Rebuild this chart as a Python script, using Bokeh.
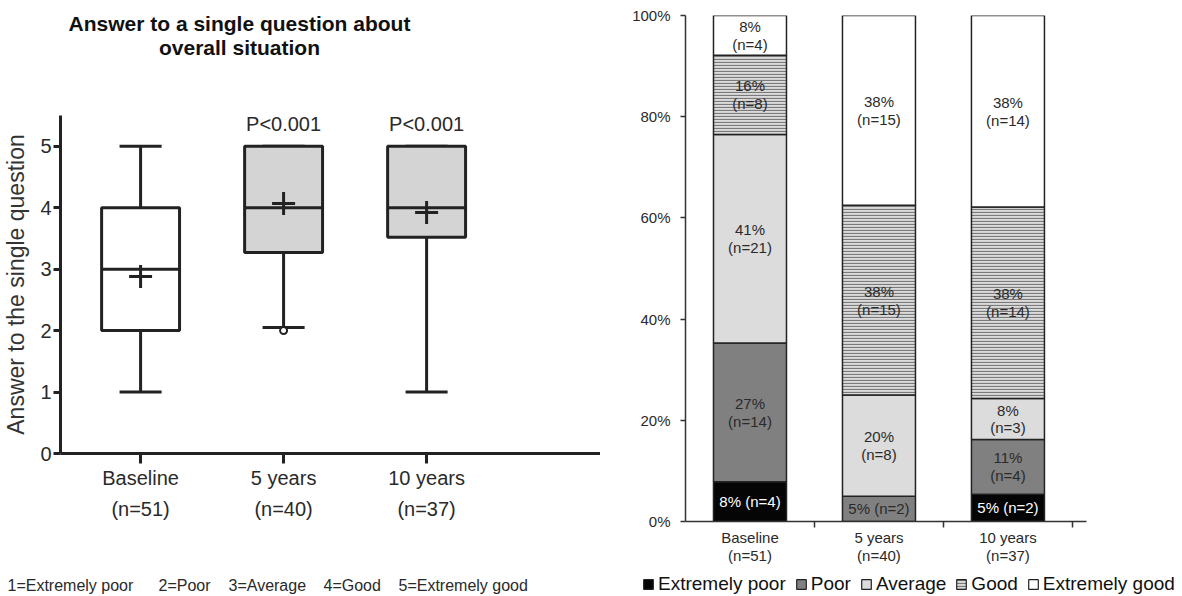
from bokeh.plotting import figure
from bokeh.models import (Range1d, FixedTicker, LabelSet, ColumnDataSource,
                          Legend, LegendItem, NumeralTickFormatter)
from bokeh.layouts import row, column
from bokeh.embed import file_html
from bokeh.resources import INLINE
from bokeh.core.properties import value

FONT = "Liberation Sans"
INK = "#222222"
TEXT = "#2a2a2a"
BOX_GRAY = "#d4d4d4"

# ---- data -------------------------------------------------------------
groups = ["Baseline", "5 years", "10 years"]
group_n = [51, 40, 37]

# box-plot summary of the single-question answer per time point
whisker_low = [1.0, 2.05, 1.0]
quart_low = [2.0, 3.27, 3.52]
medians = [3.0, 4.0, 4.0]
quart_high = [4.0, 5.0, 5.0]
whisker_high = [5.0, 5.0, 5.0]
means = [2.88, 4.07, 3.92]
p_values = ["", "P<0.001", "P<0.001"]
outlier_group = ["5 years"]
outlier_value = [2.0]

title_lines = ["Answer to a single question about", "overall situation"]
scale_names = ["1=Extremely poor", "2=Poor", "3=Average", "4=Good", "5=Extremely good"]

# answer distribution (counts) per time point
levels = ["Extremely poor", "Poor", "Average", "Good", "Extremely good"]
extremely_poor = [4, 0, 2]
poor = [14, 2, 4]
average = [21, 8, 3]
good = [8, 15, 14]
extremely_good = [4, 15, 14]

xs = [i + 1 for i in range(len(groups))]
pos = dict(zip(groups, xs))
tick_text = {x: f"{g}\n(n={n})" for x, g, n in zip(xs, groups, group_n)}

level_style = {
    "Extremely poor": dict(fill_color="#050505"),
    "Poor": dict(fill_color="#808080"),
    "Average": dict(fill_color="#dcdcdc"),
    "Good": dict(fill_color="#dadada", hatch_pattern="horizontal_line",
                 hatch_color="#7a7a7a", hatch_scale=3, hatch_weight=1.2),
    "Extremely good": dict(fill_color="white"),
}


def style_axis(ax, size, width, color=INK):
    ax.axis_line_color = color
    ax.axis_line_width = width
    ax.major_tick_line_color = color
    ax.major_tick_line_width = width
    ax.major_tick_in = 0
    ax.minor_tick_line_color = None
    ax.major_label_text_font = FONT
    ax.major_label_text_font_size = size
    ax.major_label_text_color = TEXT


def blank_panel(width, height):
    """A figure whose frame covers the whole canvas, measured in pixels."""
    f = figure(width=width, height=height, x_range=Range1d(0, width), y_range=Range1d(0, height),
               output_backend="svg", toolbar_location=None, x_axis_location=None,
               y_axis_location=None, min_border=0, outline_line_color=None, frame_align=False)
    f.grid.visible = False
    return f


# ---- left: title panel --------------------------------------------------
header = blank_panel(600, 100)
header.text(x=[239, 239], y=[77, 53], text=title_lines, text_align="center",
            text_baseline="middle", text_font=value(FONT), text_font_size="21px",
            text_font_style="bold", text_color="#111111")

# ---- left: box plot ---------------------------------------------------
left = figure(width=600, height=460, x_range=Range1d(0.44, 4.216), y_range=Range1d(0, 5.5),
              output_backend="svg", toolbar_location=None, frame_align=False,
              min_border_left=60, min_border_right=0, min_border_top=15, min_border_bottom=107,
              outline_line_color=None, background_fill_color="white")
left.xgrid.grid_line_color = None
left.ygrid.grid_line_color = None

box_w = 0.545
cap_w = 0.294
fills = ["white" if g == "Baseline" else BOX_GRAY for g in groups]

# whiskers with caps
left.segment(x0=xs, y0=whisker_low, x1=xs, y1=quart_low, line_color=INK, line_width=3)
left.segment(x0=xs, y0=quart_high, x1=xs, y1=whisker_high, line_color=INK, line_width=3)
left.segment(x0=[x - cap_w / 2 for x in xs], y0=whisker_low,
             x1=[x + cap_w / 2 for x in xs], y1=whisker_low, line_color=INK, line_width=3)
left.segment(x0=[x - cap_w / 2 for x in xs], y0=whisker_high,
             x1=[x + cap_w / 2 for x in xs], y1=whisker_high, line_color=INK, line_width=3)
# boxes and medians
left.vbar(x=xs, bottom=quart_low, top=quart_high, width=box_w,
          fill_color=fills, line_color=INK, line_width=3)
left.segment(x0=[x - box_w / 2 for x in xs], y0=medians,
             x1=[x + box_w / 2 for x in xs], y1=medians, line_color=INK, line_width=3)
# means
left.scatter(x=xs, y=means, marker="cross", size=23, line_color=INK, line_width=3)
# outlier
left.scatter(x=[pos[g] for g in outlier_group], y=outlier_value, marker="circle", size=7,
             fill_color="white", line_color=INK, line_width=2)

p_src = ColumnDataSource(dict(x=xs, y=whisker_high, text=p_values))
left.add_layout(LabelSet(x="x", y="y", text="text", source=p_src, y_offset=22,
                         text_align="center", text_baseline="middle",
                         text_font=value(FONT), text_font_size="20px", text_color=TEXT))

left.yaxis.ticker = FixedTicker(ticks=[0, 1, 2, 3, 4, 5])
style_axis(left.yaxis, "20px", 3)
left.yaxis.major_tick_out = 7
left.yaxis.major_label_standoff = 2
left.yaxis.axis_label = "Answer to the single question"
left.yaxis.axis_label_text_font = FONT
left.yaxis.axis_label_text_font_size = "23px"
left.yaxis.axis_label_text_font_style = "normal"
left.yaxis.axis_label_text_color = "#333333"
left.yaxis.axis_label_standoff = 8

left.xaxis.ticker = FixedTicker(ticks=xs)
left.xaxis.major_label_overrides = tick_text
style_axis(left.xaxis, "20px", 3)
left.xaxis.major_tick_out = 10
left.xaxis.major_label_standoff = 3
left.xaxis.major_label_text_line_height = 1.42

# ---- right: stacked percentage bars ----------------------------------
right = figure(width=582, height=569, x_range=Range1d(0.5, 3.609), y_range=Range1d(0, 1),
               output_backend="svg", toolbar_location=None, frame_align=False,
               min_border_left=85, min_border_right=96, min_border_top=15, min_border_bottom=48,
               outline_line_color=None, background_fill_color="white")
right.xgrid.grid_line_color = None
right.ygrid.grid_line_color = None

series = [extremely_poor, poor, average, good, extremely_good]
bar_w = 0.566
bottom = [0.0] * len(groups)
first_drawn = [True] * len(groups)
for name, counts in zip(levels, series):
    frac = [c / n for c, n in zip(counts, group_n)]
    top = [b + f for b, f in zip(bottom, frac)]
    right.vbar(x=xs, bottom=bottom, top=top, width=bar_w,
               line_color=INK, line_width=1.5, **level_style[name])

    lx, ly, lt = [], [], []
    for i, c in enumerate(counts):
        if c == 0:
            continue
        pct = round(100 * c / group_n[i])
        sep = " " if first_drawn[i] else "\n"
        first_drawn[i] = False
        lx.append(xs[i])
        ly.append((bottom[i] + top[i]) / 2)
        lt.append(f"{pct}%{sep}(n={c})")
    right.text(x=lx, y=ly, text=lt, text_align="center", text_baseline="middle",
               text_font=value(FONT), text_font_size="15px", text_line_height=1.05,
               text_color="white" if name == "Extremely poor" else TEXT)
    bottom = top

right.yaxis.ticker = FixedTicker(ticks=[0, 0.2, 0.4, 0.6, 0.8, 1.0])
right.yaxis.formatter = NumeralTickFormatter(format="0%")
style_axis(right.yaxis, "15px", 1.5, "#333333")
right.yaxis.major_tick_out = 5
right.yaxis.major_label_standoff = 10

right.xaxis.ticker = FixedTicker(ticks=xs, minor_ticks=[x + 0.5 for x in xs])
right.xaxis.major_label_overrides = tick_text
style_axis(right.xaxis, "15px", 1.5, "#333333")
right.xaxis.major_tick_out = 0
right.xaxis.minor_tick_out = 6
right.xaxis.minor_tick_in = 0
right.xaxis.minor_tick_line_color = "#333333"
right.xaxis.minor_tick_line_width = 1.5
right.xaxis.major_label_standoff = 1
right.xaxis.major_label_text_line_height = 1.07

# ---- footer: answer scale and legend ----------------------------------
footer = blank_panel(1182, 27)
footer.text(x=[7, 158, 228, 323, 398], y=[11] * len(scale_names), text=scale_names,
            text_align="left", text_baseline="middle", text_font=value(FONT),
            text_font_size="16px", text_color=TEXT)

# legend keys: one undrawn (NaN) bar per answer level carrying its style
nan = float("nan")
items = []
for name in levels:
    key = footer.vbar(x=[nan], bottom=[nan], top=[nan], width=1, line_color=INK,
                      line_width=1.2, **level_style[name])
    items.append(LegendItem(label=name, renderers=[key]))
legend = Legend(items=items, orientation="horizontal", location=(642, 1),
                glyph_width=12, glyph_height=12, label_height=20, label_standoff=4, spacing=9,
                padding=0, margin=0, border_line_color=None, background_fill_alpha=0,
                label_text_font=FONT, label_text_font_size="19px",
                label_text_color="#111111", label_text_baseline="middle")
footer.add_layout(legend)

layout = column(row(column(header, left), right), footer)
open("out.html", "w").write(file_html(layout, INLINE))
